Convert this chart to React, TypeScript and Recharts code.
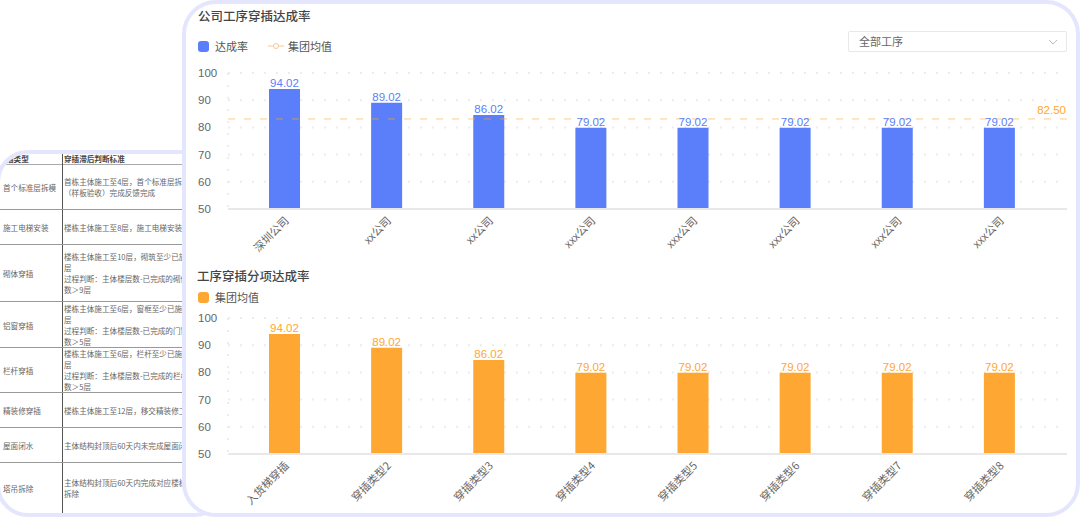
import React from 'react';
import { BarChart, Bar, XAxis, YAxis, CartesianGrid, ReferenceLine, LabelList } from 'recharts';

const FONT = '"Noto Sans CJK SC", "Liberation Sans", sans-serif';
const BLUE = '#5b7ffb';
const ORANGE = '#ffa733';

const companies = ['深圳公司', 'xx公司', 'xx公司', 'xxx公司', 'xxx公司', 'xxx公司', 'xxx公司', 'xxx公司'];
const companyRates = [94.1, 89.1, 84.6, 79.9, 79.9, 79.9, 79.9, 79.9];
const companyLabels = ['94.02', '89.02', '86.02', '79.02', '79.02', '79.02', '79.02', '79.02'];
const groupAverage = 83.1;

const types = ['入货梯穿插', '穿插类型2', '穿插类型3', '穿插类型4', '穿插类型5', '穿插类型6', '穿插类型7', '穿插类型8'];
const typeRates = [94.1, 89.1, 84.6, 79.9, 79.9, 79.9, 79.9, 79.9];
const typeLabels = ['94.02', '89.02', '86.02', '79.02', '79.02', '79.02', '79.02', '79.02'];

const yTicks = [50, 60, 70, 80, 90, 100];

const tableHead = ['插类型', '穿插滞后判断标准'];
const tableRows = [
  { h: 46, type: '首个标准层拆模', rule: ['首栋主体施工至4层，首个标准层拆模', '（样板验收）完成反馈完成'] },
  { h: 35, type: '施工电梯安装', rule: ['楼栋主体施工至8层，施工电梯安装'] },
  { h: 57, type: '砌体穿插', rule: ['楼栋主体施工至10层，砌筑至少已施工', '层', '过程判断：主体楼层数-已完成的砌体层', '数＞9层'] },
  { h: 46, type: '铝窗穿插', rule: ['楼栋主体施工至6层，窗框至少已施工', '层', '过程判断：主体楼层数-已完成的门窗层', '数＞5层'] },
  { h: 45, type: '栏杆穿插', rule: ['楼栋主体施工至6层，栏杆至少已施工', '层', '过程判断：主体楼层数-已完成的栏杆层', '数＞5层'] },
  { h: 35, type: '精装修穿插', rule: ['楼栋主体施工至12层，移交精装修工作'] },
  { h: 35, type: '屋面闭水', rule: ['主体结构封顶后60天内未完成屋面闭水'] },
  { h: 49, type: '塔吊拆除', rule: ['主体结构封顶后60天内完成对应楼栋塔吊', '拆除'] },
];

const YTick = (props: any) => (
  <text x={16} y={props.y + 4} fontSize={11.5} fill="#666" fontFamily="Liberation Sans">
    {props.payload.value}
  </text>
);

const XTick = (props: any) => (
  <text
    x={props.x + 2}
    y={props.y + 1}
    fontSize={11}
    fill="#666"
    fontFamily={FONT}
    textAnchor="end"
    dominantBaseline="central"
    transform={`rotate(-45 ${props.x + 2} ${props.y + 1})`}
  >
    {props.payload.value}
  </text>
);

const RateChart = ({ names, rates, labels, color, top, average }: any) => {
  const rows = names.map((name: string, i: number) => ({ name, rate: rates[i], label: labels[i] }));
  return (
    <div style={{ position: 'absolute', left: 182, top }}>
      <BarChart width={898} height={212} data={rows} margin={{ top: 13, right: 13, bottom: 0, left: 0 }} barSize={31}>
        <CartesianGrid stroke="#ececec" strokeWidth={2} strokeDasharray="2 10" verticalPoints={[46]} />
        <XAxis
          dataKey="name"
          interval={0}
          height={63}
          padding={{ left: 5, right: 17 }}
          tick={<XTick />}
          tickLine={false}
          axisLine={{ stroke: '#e8e8e8', strokeWidth: 2 }}
        />
        <YAxis width={46} domain={[50, 100]} ticks={yTicks} tick={<YTick />} tickLine={false} axisLine={false} />
        <Bar dataKey="rate" fill={color} isAnimationActive={false}>
          <LabelList dataKey="label" position="top" offset={2} fill={color} fontSize={11.5} fontFamily="Liberation Sans" />
        </Bar>
        {average != null && (
          <ReferenceLine
            y={average}
            stroke="rgba(255,167,51,0.6)"
            strokeDasharray="7 9"
            label={{ value: '82.50', position: 'insideBottomRight', fill: ORANGE, fontSize: 11.5, fontFamily: 'Liberation Sans', offset: 5, dx: 4 }}
          />
        )}
      </BarChart>
    </div>
  );
};

const swatch = (color: string) => (
  <span style={{ display: 'inline-block', width: 11, height: 11, borderRadius: 3, background: color }} />
);

const App = () => (
  <div style={{ position: 'absolute', left: 0, top: 0, width: 1080, height: 517, overflow: 'hidden', background: '#fff', fontFamily: FONT, color: '#555' }}>
    {/* table card behind */}
    <div style={{ position: 'absolute', left: -4, top: 150, width: 230, height: 367, boxSizing: 'border-box', border: '4px solid #e4e6fd', borderRadius: 32, overflow: 'hidden', background: '#fff' }}>
      <div style={{ position: 'absolute', left: 4, top: 0, width: 220, height: 10, fontSize: 7.6, fontWeight: 700, color: '#444', lineHeight: '9px' }}>
        <span style={{ position: 'absolute', left: 2, top: 0 }}>{tableHead[0]}</span>
        <span style={{ position: 'absolute', left: 60, top: 0 }}>{tableHead[1]}</span>
      </div>
      <div style={{ position: 'absolute', left: 0, top: 10, width: 226, borderTop: '1px solid #aaa' }} />
      <div style={{ position: 'absolute', left: 62, top: 0, height: 359, borderLeft: '1px solid #555' }} />
      <div style={{ position: 'absolute', left: 0, top: 10, width: 226 }}>
        {tableRows.map((r, n) => (
          <div key={r.type} style={{ position: 'relative', height: r.h, boxSizing: 'border-box', borderBottom: n < tableRows.length - 1 ? '1px solid #999' : 'none', fontSize: 7.6, lineHeight: '11px', color: '#666' }}>
            <span style={{ position: 'absolute', left: 3, top: '50%', transform: 'translateY(-50%)', whiteSpace: 'nowrap' }}>{r.type}</span>
            <div style={{ position: 'absolute', left: 64, top: '50%', transform: 'translateY(-50%)', whiteSpace: 'nowrap' }}>
              {r.rule.map((line, i) => (
                <div key={i}>{line}</div>
              ))}
            </div>
          </div>
        ))}
      </div>
    </div>

    {/* main card */}
    <div style={{ position: 'absolute', left: 182, top: 0, width: 898, height: 517, boxSizing: 'border-box', border: '4px solid #e4e6fd', borderRadius: 34, background: '#fff' }} />

    <div style={{ position: 'absolute', left: 198, top: 7, fontSize: 12.5, fontWeight: 500, color: '#444', lineHeight: '18px' }}>公司工序穿插达成率</div>
    <div style={{ position: 'absolute', left: 198, top: 38, display: 'flex', alignItems: 'center', fontSize: 11, lineHeight: '16px', height: 16 }}>
      {swatch(BLUE)}
      <span style={{ marginLeft: 6 }}>达成率</span>
      <svg width={16} height={10} style={{ marginLeft: 20 }}>
        <line x1={0} y1={5} x2={16} y2={5} stroke="#f9c88c" />
        <circle cx={8} cy={5} r={2.5} fill="#fff" stroke="#f9c88c" />
      </svg>
      <span style={{ marginLeft: 4 }}>集团均值</span>
    </div>
    <div style={{ position: 'absolute', left: 848, top: 31, width: 219, height: 21, boxSizing: 'border-box', border: '1px solid #e8e8e8', borderRadius: 2, fontSize: 11, lineHeight: '19px', paddingLeft: 10, color: '#666' }}>
      全部工序
      <svg width={10} height={6} style={{ position: 'absolute', right: 8, top: 7 }}>
        <polyline points="1,1 5,5 9,1" fill="none" stroke="#bbb" />
      </svg>
    </div>
    <RateChart names={companies} rates={companyRates} labels={companyLabels} color={BLUE} top={60} average={groupAverage} />

    <div style={{ position: 'absolute', left: 197, top: 267, fontSize: 12.5, fontWeight: 500, color: '#444', lineHeight: '18px' }}>工序穿插分项达成率</div>
    <div style={{ position: 'absolute', left: 198, top: 289, display: 'flex', alignItems: 'center', fontSize: 11, lineHeight: '16px', height: 16 }}>
      {swatch(ORANGE)}
      <span style={{ marginLeft: 6 }}>集团均值</span>
    </div>
    <RateChart names={types} rates={typeRates} labels={typeLabels} color={ORANGE} top={305} />
  </div>
);

export default App;
